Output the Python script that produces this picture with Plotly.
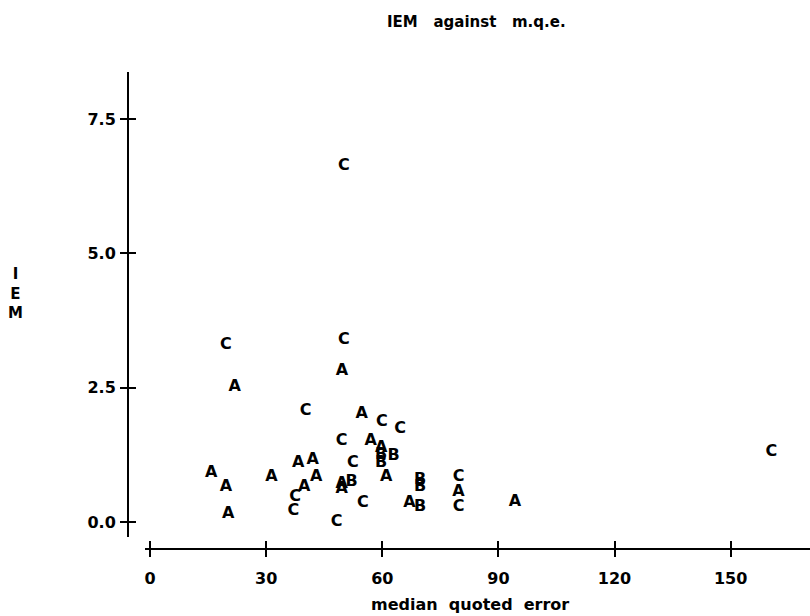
import plotly.graph_objects as go

# ---- data ----
a_x = [21.9, 54.7, 57.0, 59.7, 15.8, 19.6, 20.2, 31.4, 38.3, 42.0, 42.9, 39.8,
       49.5, 49.5, 61.0, 67.0, 79.7, 94.3, 49.6]
a_y = [2.51, 2.01, 1.51, 1.37, 0.92, 0.66, 0.15, 0.84, 1.09, 1.15, 0.84, 0.66,
       0.71, 0.61, 0.84, 0.35, 0.56, 0.38, 2.81]

b_x = [59.7, 62.9, 59.7, 52.1, 69.8, 69.8, 69.8]
b_y = [1.25, 1.23, 1.09, 0.75, 0.78, 0.65, 0.28]

c_x = [40.2, 59.9, 64.6, 49.5, 52.4, 37.5, 37.0, 55.0, 48.2, 79.7, 79.7, 160.5,
       50.1, 19.6, 50.1]
c_y = [2.07, 1.87, 1.73, 1.51, 1.10, 0.46, 0.20, 0.35, 0.00, 0.84, 0.28, 1.30,
       6.63, 3.30, 3.39]

x_ticks = [0, 30, 60, 90, 120, 150]
y_ticks = [0.0, 2.5, 5.0, 7.5]
y_tick_text = ["0.0", "2.5", "5.0", "7.5"]

W, H = 810, 616
FONT = "DejaVu Sans"

def px_x(p):
    return p / W

def px_y(p):
    return 1 - p / H

x_range = [-1.3, 170.5]
y_range = [-0.28, 8.38]

fig = go.Figure()
letter_font = dict(family=FONT, size=16, color="black", weight="bold")
for lab, xs, ys in [("A", a_x, a_y), ("B", b_x, b_y), ("C", c_x, c_y)]:
    fig.add_trace(go.Scatter(x=xs, y=ys, mode="text", text=[lab] * len(xs),
                             textfont=letter_font, textposition="middle center",
                             showlegend=False, hoverinfo="x+y"))

# invisible trace on overlay axes (for crossing ticks)
fig.add_trace(go.Scatter(x=[x_range[0]], y=[y_range[0]], xaxis="x2", yaxis="y2",
                         mode="markers", marker=dict(opacity=0), showlegend=False,
                         hoverinfo="skip"))

tick_font = dict(family=FONT, size=16, color="black", weight="bold")

common_x = dict(range=x_range, domain=[px_x(145), 1.0], tickvals=x_ticks,
                showgrid=False, zeroline=False, showline=True, linecolor="black",
                linewidth=2, ticklen=7, tickwidth=2, tickcolor="black",
                anchor="free", position=px_y(549), automargin=False)
common_y = dict(range=y_range, domain=[px_y(537), px_y(72)], tickvals=y_ticks,
                showgrid=False, zeroline=False, showline=True, linecolor="black",
                linewidth=2, ticklen=7, tickwidth=2, tickcolor="black",
                anchor="free", position=px_x(128), automargin=False)

fig.update_layout(
    width=W, height=H,
    margin=dict(l=0, r=0, t=0, b=0),
    paper_bgcolor="white", plot_bgcolor="white",
    xaxis=dict(**common_x, ticks="outside", tickfont=tick_font,
               ticklabelstandoff=8),
    yaxis=dict(**common_y, ticks="outside", tickfont=tick_font,
               ticktext=y_tick_text, ticklabelstandoff=1),
    xaxis2=dict(**{k: v for k, v in common_x.items() if k != "domain"},
                overlaying="x", ticks="inside", showticklabels=False),
    yaxis2=dict(**{k: v for k, v in common_y.items() if k != "domain"},
                overlaying="y", ticks="inside", showticklabels=False),
    annotations=[
        dict(text="IEM   against   m.q.e.", x=px_x(476), y=px_y(22), xref="paper",
             yref="paper", showarrow=False, xanchor="center", yanchor="middle",
             font=dict(family=FONT, size=15, color="black", weight="bold")),
        dict(text="median  quoted  error", x=px_x(470), y=px_y(604), xref="paper",
             yref="paper", showarrow=False, xanchor="center", yanchor="middle",
             font=dict(family=FONT, size=16, color="black", weight="bold")),
        dict(text="I<br>E<br>M", x=px_x(15), y=px_y(293), xref="paper",
             yref="paper", showarrow=False, xanchor="center", yanchor="middle",
             font=dict(family=FONT, size=15, color="black", weight="bold")),
    ],
)

fig.write_html("out.html",
               config={"displayModeBar": False},
               post_script="document.body.style.margin='0px';"
                           "document.body.style.padding='0px';")
